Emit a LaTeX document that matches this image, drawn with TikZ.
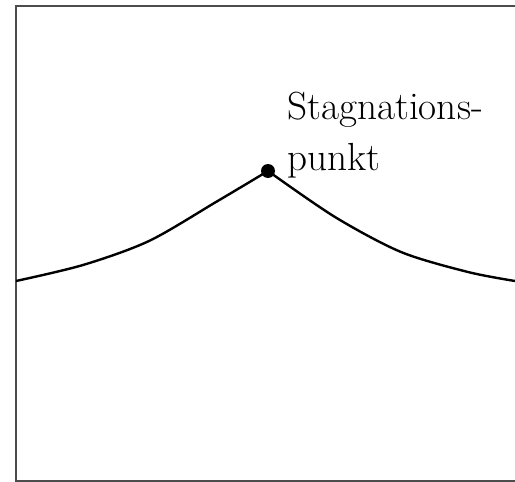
\documentclass[tikz,border=0pt]{standalone}
\begin{document}
\begin{tikzpicture}[x=0.5pt,y=-0.5pt,
  frame/.style={draw=black!70,line width=0.8pt},
  curve/.style={draw=black,line width=1.2pt},
  lbl/.style={inner sep=0pt,align=left,font=\fontsize{19.6}{25.5}\selectfont}]
\useasboundingbox (0,0) rectangle (515,482);
\coordinate (tl) at (16,6);
\coordinate (tr) at (515,6);
\coordinate (bl) at (16,481);
\coordinate (br) at (515,481);
\draw[frame] (tr) -- (tl) -- (bl) -- (br);
\coordinate (peak) at (268,171);
\draw[curve] plot[smooth,tension=0.5] coordinates {(16,281) (83,265) (149,241) (216,202) (268,171)};
\draw[curve] plot[smooth,tension=0.5] coordinates {(268,171) (335,217) (401,252) (468,272) (515,281)};
\fill (peak) circle (7);
\node[lbl,anchor=base west] (sp) at (287,170) {Stagnations-\\punkt};
\end{tikzpicture}
\end{document}
